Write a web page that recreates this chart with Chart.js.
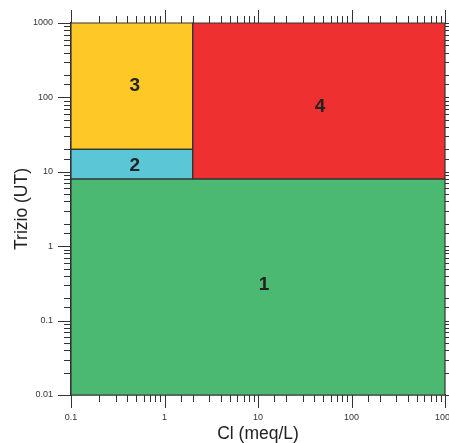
<!DOCTYPE html>
<html><head><meta charset="utf-8">
<script src="https://cdn.jsdelivr.net/npm/chart.js@4"></script>
<style>html,body{margin:0;padding:0;background:#fff}#wrap{width:449px;height:443px;position:relative}</style>
</head><body><div id="wrap"><canvas id="c"></canvas></div>
<script>
const regionNames = ['1', '2', '3', '4'];
const clMin = [0.1, 0.1, 0.1, 2];
const clMax = [1000, 2, 2, 1000];
const tritioMin = [0.01, 8, 20, 8];
const tritioMax = [8, 20, 1000, 1000];
const regionColors = ['#4cb972', '#5bc6d6', '#fec826', '#ee3030'];
const labelCl = [11.6, 0.48, 0.48, 46];
const labelTritio = [0.30, 12.0, 145, 74];
const xTickLabels = ['0.1', '1', '10', '100', '1000'];
const yTickLabels = ['0.01', '0.1', '1', '10', '100', '1000'];

const FONT = '"Liberation Sans", Arial, sans-serif';

const datasets = [];
for (let i = 0; i < regionNames.length; i++) {
  datasets.push({
    label: 'fill' + regionNames[i],
    data: [{x: clMin[i], y: tritioMax[i]}, {x: clMax[i], y: tritioMax[i]}],
    showLine: true, borderWidth: 0, pointRadius: 0,
    backgroundColor: regionColors[i], borderColor: 'rgba(0,0,0,0)',
    fill: {value: tritioMin[i]}, order: 2
  });
}
for (let i = 0; i < regionNames.length; i++) {
  datasets.push({
    label: 'edge' + regionNames[i],
    data: [{x: clMin[i], y: tritioMin[i]}, {x: clMax[i], y: tritioMin[i]}, {x: clMax[i], y: tritioMax[i]}, {x: clMin[i], y: tritioMax[i]}, {x: clMin[i], y: tritioMin[i]}],
    showLine: true, borderWidth: 1.2, pointRadius: 0, fill: false,
    borderColor: '#333333', clip: false, order: 1
  });
}

function isMajor(v) { const l = Math.log10(v); return Math.abs(l - Math.round(l)) < 1e-9; }
function labelFor(list, v) {
  if (!isMajor(v)) return '';
  const s = list.find(s => Math.abs(parseFloat(s) - v) / v < 1e-6);
  return s === undefined ? '' : s;
}

const tickPlugin = {
  id: 'ticksAll',
  afterDatasetsDraw(chart) {
    const ctx = chart.ctx;
    ctx.save();
    ctx.fillStyle = '#222';
    ctx.font = 'bold 19px ' + FONT;
    ctx.textAlign = 'center';
    ctx.textBaseline = 'middle';
    for (let i = 0; i < regionNames.length; i++) {
      ctx.fillText(regionNames[i], chart.scales.x.getPixelForValue(labelCl[i]), chart.scales.y.getPixelForValue(labelTritio[i]));
    }
    ctx.restore();
  },
  afterDraw(chart) {
    const ctx = chart.ctx, a = chart.chartArea;
    ctx.save();
    ctx.strokeStyle = '#333';
    ctx.lineWidth = 1;
    ctx.beginPath();
    const xs = chart.scales.x, ys = chart.scales.y;
    for (const t of xs.ticks) {
      const p = Math.round(xs.getPixelForValue(t.value)) + 0.5;
      const L = isMajor(t.value) ? 13 : 7;
      ctx.moveTo(p, a.bottom); ctx.lineTo(p, a.bottom + L);
      ctx.moveTo(p, a.top); ctx.lineTo(p, a.top - L);
    }
    for (const t of ys.ticks) {
      const p = Math.round(ys.getPixelForValue(t.value)) + 0.5;
      const L = isMajor(t.value) ? 13 : 7;
      ctx.moveTo(a.left, p); ctx.lineTo(a.left - L, p);
      ctx.moveTo(a.right, p); ctx.lineTo(a.right + L, p);
    }
    ctx.stroke();
    ctx.restore();
  }
};

new Chart(document.getElementById('c'), {
  type: 'scatter',
  data: {datasets},
  options: {
    responsive: true, maintainAspectRatio: false, animation: false,
    layout: {padding: {left: 0, top: 23, right: 4, bottom: 0}},
    plugins: {legend: {display: false}, tooltip: {enabled: false}},
    scales: {
      x: {
        type: 'logarithmic', min: 0.1, max: 1000, z: 1,
        grid: {display: false, drawTicks: false},
        border: {display: true, color: '#333', width: 1.5},
        ticks: {autoSkip: false, maxRotation: 0, padding: 17, color: '#333', font: {family: FONT, size: 9},
          callback: v => labelFor(xTickLabels, v)},
        title: {display: true, text: 'Cl (meq/L)', color: '#222', font: {family: FONT, size: 17.5, lineHeight: 1}, padding: 0},
        afterFit(s) { s.height = 48; s.paddingLeft = 0; s.paddingRight = 0; }
      },
      y: {
        type: 'logarithmic', min: 0.01, max: 1000, z: 1,
        grid: {display: false, drawTicks: false},
        border: {display: true, color: '#333', width: 1.5},
        ticks: {autoSkip: false, padding: 18, color: '#333', font: {family: FONT, size: 9},
          callback: v => labelFor(yTickLabels, v)},
        title: {display: true, text: 'Trizio (UT)', color: '#222', font: {family: FONT, size: 17.5, lineHeight: 1}, padding: {top: 13, bottom: 0}},
        afterFit(s) { s.width = 71; s.paddingTop = 0; s.paddingBottom = 0; }
      }
    }
  },
  plugins: [tickPlugin]
});
</script></body></html>
